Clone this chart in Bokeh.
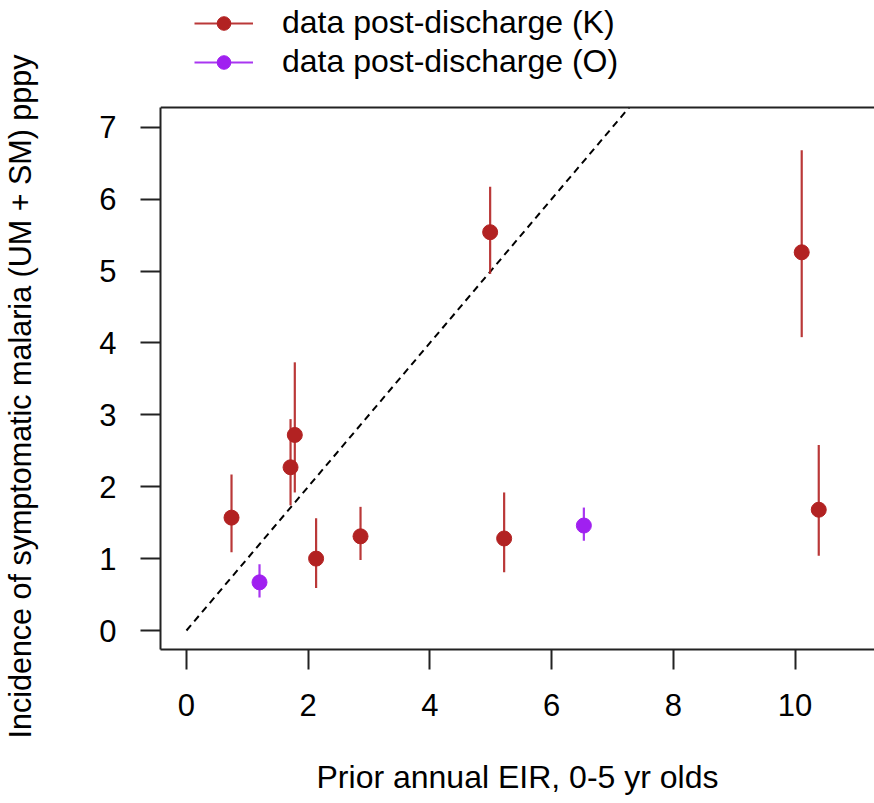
from bokeh.plotting import figure
from bokeh.models import (Range1d, Span, Legend, LegendItem, FixedTicker, ColumnDataSource,
                          Title, LinearAxis)
from bokeh.embed import file_html
from bokeh.resources import INLINE

# ---- data ----
k_eir = [0.74, 1.71, 1.78, 2.13, 2.86, 4.99, 5.22, 10.11, 10.39]
k_inc = [1.57, 2.27, 2.72, 1.00, 1.31, 5.54, 1.28, 5.26, 1.68]
k_lo = [1.09, 1.74, 1.92, 0.59, 0.98, 4.96, 0.81, 4.08, 1.04]
k_hi = [2.17, 2.94, 3.73, 1.56, 1.72, 6.17, 1.92, 6.68, 2.58]

o_eir = [1.20, 6.53]
o_inc = [0.67, 1.46]
o_lo = [0.46, 1.25]
o_hi = [0.92, 1.71]

Y_TOP = 7.274            # top of the plotting box (y units)
ref_x = [0, Y_TOP]       # identity reference line y = x
ref_y = [0, Y_TOP]

x_ticks = [0, 2, 4, 6, 8, 10]
y_ticks = [0, 1, 2, 3, 4, 5, 6, 7]

labels = ["data post-discharge (K)", "data post-discharge (O)"]
x_title = "Prior annual EIR, 0-5 yr olds"
y_title = "Incidence of symptomatic malaria (UM + SM) pppy"

RED = "#B22222"
PURPLE = "#A020F0"
FONT = "Liberation Sans"

# frame spans the full height above the x axis; the legend lives in the top strip
p = figure(width=874, height=803, output_backend="svg", toolbar_location=None,
           x_range=Range1d(-0.427, 11.306), y_range=Range1d(-0.264, 8.762),
           min_border_left=0, min_border_right=0, min_border_top=0, min_border_bottom=154)
p.grid.visible = False
p.outline_line_color = None
p.background_fill_color = "white"
p.border_fill_color = "white"

p.add_layout(Span(location=Y_TOP, dimension="width", line_color="#222222", line_width=2))

p.line(ref_x, ref_y, line_color="black", line_width=2, line_dash="7 5")

ks = ColumnDataSource(dict(x=k_eir, y=k_inc, lo=k_lo, hi=k_hi))
os_ = ColumnDataSource(dict(x=o_eir, y=o_inc, lo=o_lo, hi=o_hi))

k_seg = p.segment(x0="x", y0="lo", x1="x", y1="hi", source=ks, line_color=RED, line_width=2.2, line_alpha=0.9)
o_seg = p.segment(x0="x", y0="lo", x1="x", y1="hi", source=os_, line_color=PURPLE, line_width=2.2, line_alpha=0.9)
k_pt = p.scatter("x", "y", source=ks, size=15, color=RED)
o_pt = p.scatter("x", "y", source=os_, size=15, color=PURPLE)

for ax in (p.xaxis[0], p.yaxis[0]):
    ax.axis_line_color = "#222222"
    ax.axis_line_width = 2
    ax.major_tick_line_color = "#222222"
    ax.major_tick_line_width = 2
    ax.major_tick_out = 20
    ax.major_tick_in = 0
    ax.minor_tick_line_color = None
    ax.major_label_text_font = FONT
    ax.major_label_text_font_size = "31px"
    ax.major_label_text_color = "black"
    ax.axis_label_text_font = FONT
    ax.axis_label_text_font_style = "normal"
    ax.axis_label_text_color = "black"

p.xaxis.ticker = FixedTicker(ticks=x_ticks)
p.yaxis.ticker = FixedTicker(ticks=y_ticks)
p.yaxis.bounds = (-0.264, Y_TOP)
p.xaxis.major_label_standoff = 24
p.yaxis.major_label_standoff = 24
p.yaxis.major_label_orientation = 0
p.xaxis.axis_label = x_title
p.xaxis.axis_label_text_font_size = "32px"
p.xaxis.axis_label_standoff = 40

# invisible axis used only as horizontal spacing between tick labels and the y title
spacer = LinearAxis(ticker=FixedTicker(ticks=[y_ticks[1]]), axis_line_color=None,
                    major_tick_line_color=None, minor_tick_line_color=None,
                    major_tick_out=60, major_tick_in=0, minor_tick_out=0,
                    major_label_standoff=0, major_label_text_font_size="1px",
                    major_label_text_alpha=0,
                    major_label_overrides={y_ticks[1]: ""})
p.add_layout(spacer, "left")

ytitle = Title(text=y_title, align="left", offset=-89, standoff=0,
               text_font=FONT, text_font_size="30.5px", text_font_style="normal",
               text_color="black")
p.add_layout(ytitle, "left")

legend = Legend(items=[
    LegendItem(label=labels[0], renderers=[k_seg, k_pt]),
    LegendItem(label=labels[1], renderers=[o_seg, o_pt]),
], location=(34, 569), glyph_width=59, glyph_height=34, spacing=2,
    label_standoff=29, label_text_font=FONT, label_text_font_size="32px",
    label_text_color="black",
    padding=0, margin=0, border_line_color=None, background_fill_alpha=0)
p.add_layout(legend)

open("out.html", "w").write(file_html(p, INLINE))
